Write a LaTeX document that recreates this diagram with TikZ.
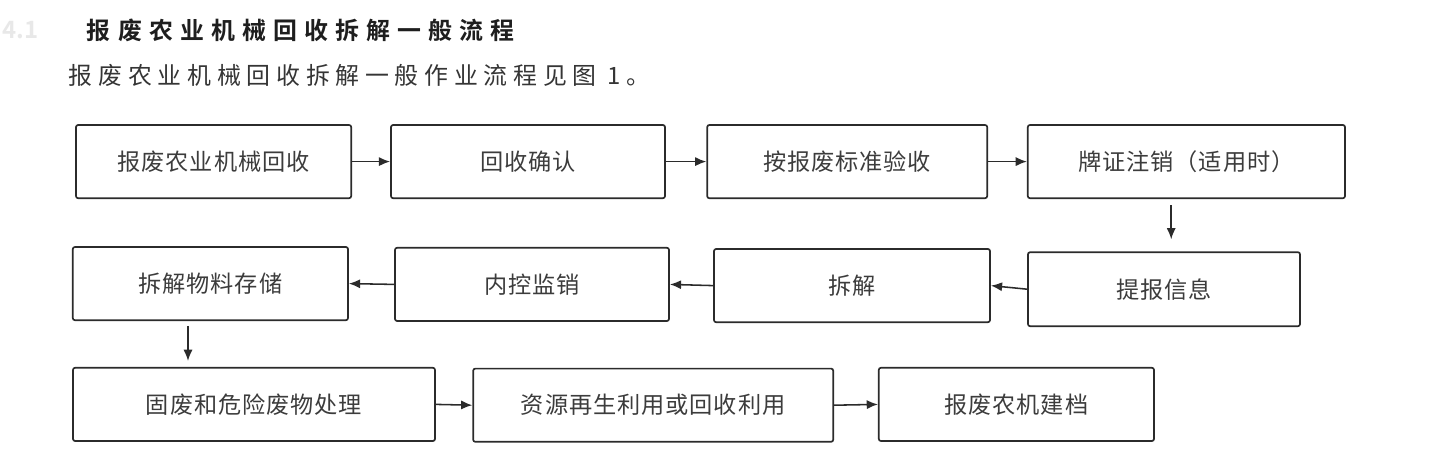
\documentclass[tikz,border=0pt]{standalone}
\usepackage{fontspec}
\setmainfont{Noto Sans CJK SC}[BoldFont={Noto Sans CJK SC Bold}]
\usetikzlibrary{positioning, arrows.meta, calc}
\definecolor{boxline}{HTML}{2B2B2B}
\definecolor{boxtext}{HTML}{3C3C3C}
\definecolor{headtext}{HTML}{1E1E1E}

\begin{document}
\begin{tikzpicture}[
    box/.style={draw=boxline, line width=1.2pt, rounded corners=1.5pt, minimum height=1.83cm,
                inner sep=0pt, text=boxtext, font=\fontsize{16.5}{18}\selectfont\addfontfeature{LetterSpace=4}},
    arr/.style={-{Latex[length=8pt, width=6.5pt]}, line width=1.1pt, boxline},
  ]
  \useasboundingbox (0,0) rectangle (35.85,-11.75);

  % ── Heading ──
  \node[anchor=west, inner sep=0pt, text=gray!18, font=\fontsize{17}{20}\selectfont\bfseries] (secnum) at (0.05,-0.75) {4.1};
  \node[anchor=west, text=headtext, font=\fontsize{17}{20}\selectfont\bfseries\addfontfeature{LetterSpace=30}]
    (title) at (2.05,-0.75) {报废农业机械回收拆解一般流程};
  \node[anchor=west, text=headtext!90, font=\fontsize{17}{20}\selectfont\addfontfeature{LetterSpace=24}]
    (intro) at (1.6,-1.88) {报废农业机械回收拆解一般作业流程见图 1。};

  % ── Row 1 ──
  \node[box, minimum width=6.88cm] (recv) at (5.34,-4.04) {报废农业机械回收};
  \node[box, minimum width=6.85cm] (confirm) at (13.2,-4.04) {回收确认};
  \node[box, minimum width=7.0cm] (accept) at (21.18,-4.04) {按报废标准验收};
  \node[box, minimum width=7.93cm] (permit) at (29.66,-4.04) {牌证注销（适用时）};

  % ── Row 2 ──
  \node[box, minimum width=6.8cm, minimum height=1.85cm] (report) at (29.1,-7.23) {提报信息};
  \node[box, minimum width=6.9cm] (split) at (21.3,-7.14) {拆解};
  \node[box, minimum width=6.85cm] (control) at (13.3,-7.11) {内控监销};
  \node[box, minimum width=6.88cm] (store) at (5.26,-7.09) {拆解物料存储};

  % ── Row 3 ──
  \node[box, minimum width=9.05cm] (waste) at (6.35,-10.11) {固废和危险废物处理};
  \node[box, minimum width=9.0cm] (reuse) at (16.33,-10.13) {资源再生利用或回收利用};
  \node[box, minimum width=6.88cm] (archive) at (25.41,-10.11) {报废农机建档};

  % ── Flow ──
  \draw[arr] (recv.east) -- (confirm.west);
  \draw[arr] (confirm.east) -- (accept.west);
  \draw[arr] (accept.east) -- (permit.west);
  \draw[arr, shorten <=0.15cm, shorten >=0.3cm] ([xshift=-0.38cm]permit.south) -- ([xshift=-0.38cm]permit.south |- report.north);
  \draw[arr] (report.west) -- (split.east);
  \draw[arr] (split.west) -- (control.east);
  \draw[arr] (control.west) -- (store.east);
  \draw[arr, shorten <=0.12cm, shorten >=0.15cm] ([xshift=-0.56cm]store.south) -- ([xshift=-0.56cm]store.south |- waste.north);
  \draw[arr] (waste.east) -- (reuse.west);
  \draw[arr] (reuse.east) -- (archive.west);

\end{tikzpicture}
\end{document}
